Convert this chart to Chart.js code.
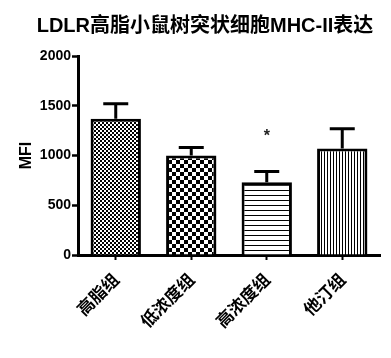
<!DOCTYPE html>
<html>
<head>
<meta charset="utf-8">
<script src="https://cdn.jsdelivr.net/npm/chart.js@4/dist/chart.umd.min.js"></script>
<style>
html,body{margin:0;padding:0;background:#fff;}
#wrap{width:391px;height:358px;}
</style>
</head>
<body>
<div id="wrap"><canvas id="c" width="391" height="358"></canvas></div>
<script>
const titleText = 'LDLR高脂小鼠树突状细胞MHC-II表达';
const categories = ['高脂组', '低浓度组', '高浓度组', '他汀组'];
const meanValues = [1370, 1000, 730, 1070];
const errorValues = [150, 80, 110, 200];
const starValues = [null, null, 1220, null];
const yTicks = [0, 500, 1000, 1500, 2000];

function makePattern(w, h, draw) {
  const c = document.createElement('canvas');
  c.width = w; c.height = h;
  const g = c.getContext('2d');
  g.fillStyle = '#fff'; g.fillRect(0, 0, w, h);
  g.fillStyle = '#000';
  draw(g);
  return document.getElementById('c').getContext('2d').createPattern(c, 'repeat');
}
const patterns = [
  makePattern(4, 4, g => { g.fillRect(0,0,2,2); g.fillRect(2,2,2,2); }),
  makePattern(8, 8, g => { g.fillRect(0,0,4,4); g.fillRect(4,4,4,4); }),
  makePattern(5, 5, g => { g.fillRect(0,0,5,1); }),
  makePattern(3, 3, g => { g.fillRect(0,0,1,3); })
];

const titlePlugin = {
  id: 'customTitle',
  afterDraw(chart) {
    const ctx = chart.ctx;
    ctx.save();
    ctx.font = 'bold 20px "Liberation Sans", "Noto Sans CJK SC", sans-serif';
    ctx.fillStyle = '#000';
    ctx.textAlign = 'center';
    ctx.textBaseline = 'middle';
    ctx.fillText(titleText, 205, 26);
    ctx.restore();
  }
};

const errorPlugin = {
  id: 'errorBars',
  afterDatasetsDraw(chart) {
    const ctx = chart.ctx;
    const meta = chart.getDatasetMeta(0);
    const ys = chart.scales.y;
    ctx.save();
    ctx.strokeStyle = '#000';
    ctx.lineWidth = 3;
    meta.data.forEach((bar, i) => {
      const x = bar.x;
      const y0 = ys.getPixelForValue(meanValues[i]);
      const y1 = ys.getPixelForValue(meanValues[i] + errorValues[i]);
      ctx.beginPath();
      ctx.moveTo(x, y0); ctx.lineTo(x, y1);
      ctx.moveTo(x - 12.5, y1); ctx.lineTo(x + 12.5, y1);
      ctx.stroke();
      if (starValues[i] != null) {
        ctx.fillStyle = '#222';
        ctx.font = 'bold 16px "Liberation Sans", sans-serif';
        ctx.textAlign = 'center';
        ctx.textBaseline = 'middle';
        ctx.fillText('*', x, ys.getPixelForValue(starValues[i]) + 3);
      }
    });
    ctx.restore();
  }
};

new Chart(document.getElementById('c'), {
  type: 'bar',
  data: {
    labels: categories,
    datasets: [{
      data: meanValues,
      backgroundColor: patterns,
      borderColor: '#000',
      borderWidth: 3,
      borderSkipped: 'start',
      categoryPercentage: 1,
      barPercentage: 0.667
    }]
  },
  plugins: [titlePlugin, errorPlugin],
  options: {
    responsive: false,
    animation: false,
    layout: { padding: { top: 56, right: 11, bottom: 0, left: 0 } },
    plugins: { legend: { display: false }, tooltip: { enabled: false }, title: { display: false } },
    scales: {
      y: {
        min: 0, max: 2000,
        afterBuildTicks(scale) { scale.ticks = yTicks.map(v => ({ value: v })); },
        afterFit(scale) { scale.width = 78; },
        ticks: { color: '#000', padding: 1, callback: v => String(v), font: { family: '"Liberation Sans", sans-serif', weight: 'bold', size: 14 } },
        grid: { drawOnChartArea: false, drawTicks: true, tickLength: 6, tickWidth: 2.5, color: '#000' },
        border: { display: true, width: 3, color: '#000' },
        title: { display: true, text: 'MFI', color: '#000', padding: { top: 17, bottom: 0 }, font: { family: '"Liberation Sans", sans-serif', weight: 'bold', size: 16 } }
      },
      x: {
        afterFit(scale) { scale.height = 103; },
        ticks: { color: '#000', minRotation: 45, maxRotation: 45, padding: 9, font: { family: '"Noto Sans CJK SC", sans-serif', weight: 'bold', size: 17 } },
        grid: { drawOnChartArea: false, drawTicks: true, tickLength: 5, tickWidth: 2, color: '#000', offset: false },
        border: { display: true, width: 3, color: '#000' }
      }
    }
  }
});
</script>
</body>
</html>
